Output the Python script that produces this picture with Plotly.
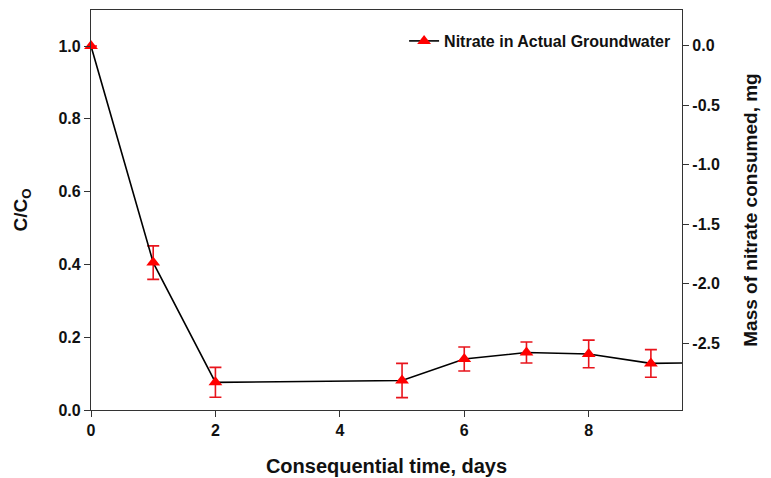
import plotly.graph_objects as go

days = [0, 1, 2, 5, 6, 7, 8, 9]
c_over_c0 = [1.0, 0.405, 0.076, 0.081, 0.140, 0.158, 0.154, 0.128]
err = [0.0, 0.046, 0.041, 0.047, 0.033, 0.029, 0.038, 0.038]
# continuation of the line past the right edge of the plot
tail_days = [9, 10]
tail_values = [0.128, 0.130]
series_name = "Nitrate in Actual Groundwater"
x_ticks = [0, 2, 4, 6, 8]
y_ticks = [0.0, 0.2, 0.4, 0.6, 0.8, 1.0]
y2_ticks = [0.0, -0.5, -1.0, -1.5, -2.0, -2.5]

FONT = "Liberation Sans, Arial, sans-serif"
INK = "#111111"

fig = go.Figure()
fig.add_trace(go.Scatter(
    x=tail_days, y=tail_values, mode="lines", showlegend=False,
    line=dict(color="black", width=1.6), hoverinfo="skip",
))
fig.add_trace(go.Scatter(
    x=days, y=c_over_c0, name=series_name, mode="lines+markers",
    line=dict(color="black", width=1.6),
    marker=dict(symbol="triangle-up", size=12, color="#ff0000"),
    error_y=dict(type="data", array=err, color="#e8141c", thickness=1.6, width=6),
    cliponaxis=False,
))
fig.add_trace(go.Scatter(x=[None], y=[None], yaxis="y2", showlegend=False, hoverinfo="skip"))

axis_common = dict(
    showline=True, linecolor="#333333", linewidth=1.2, ticks="outside",
    ticklen=6, tickcolor="#333333", tickwidth=1.2, showgrid=False, zeroline=False,
    automargin=False,
    tickfont=dict(family=FONT, size=16, color=INK, weight="bold"),
)
title_font = dict(family=FONT, size=19, color=INK, weight="bold")

fig.update_layout(
    width=771, height=478,
    margin=dict(l=91, r=89, t=10, b=68),
    plot_bgcolor="white", paper_bgcolor="white",
    showlegend=True,
    legend=dict(x=0.99, y=0.965, xanchor="right", yanchor="top",
                bgcolor="rgba(0,0,0,0)",
                font=dict(family=FONT, size=16, color=INK, weight="bold")),
    xaxis=dict(range=[0, 9.5], tickvals=x_ticks, mirror=True,
               title=dict(text="Consequential time, days", standoff=20,
                          font=dict(family=FONT, size=20, color=INK, weight="bold")),
               **axis_common),
    yaxis=dict(range=[0, 1.099], tickvals=y_ticks, tickformat=".1f",
               title=dict(text="C/C<sub>O</sub>", standoff=25, font=title_font),
               **axis_common),
    yaxis2=dict(range=[-3.06, 0.30], tickvals=y2_ticks,
                ticktext=[f"{v:.1f}" for v in y2_ticks],
                overlaying="y", side="right",
                title=dict(text="Mass of nitrate consumed, mg", standoff=24, font=title_font),
                **axis_common),
)

fig.write_html("out.html")
